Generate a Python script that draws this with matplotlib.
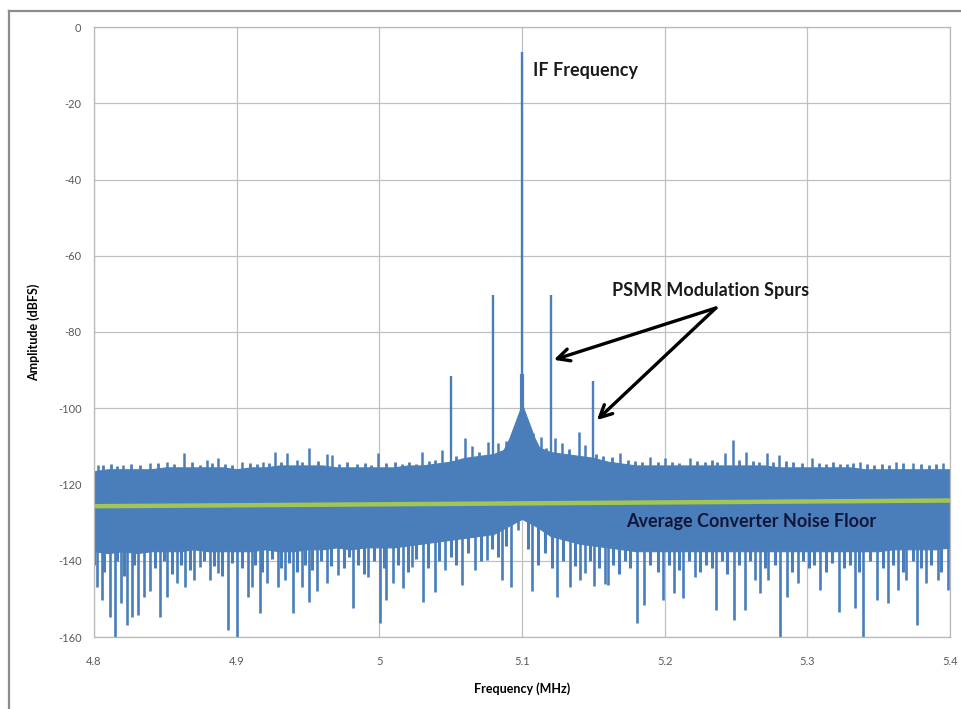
import numpy as np
import matplotlib
matplotlib.use("Agg")
import matplotlib.pyplot as plt
from matplotlib.lines import Line2D

plt.rcParams['font.family'] = ['Lato', 'DejaVu Sans']
plt.rcParams['axes.unicode_minus'] = False

# dense noise band, read every 0.01 MHz (4.80 .. 5.40)
band_freq = [4.80, 4.81, 4.82, 4.83, 4.84, 4.85, 4.86, 4.87, 4.88, 4.89,
             4.90, 4.91, 4.92, 4.93, 4.94, 4.95, 4.96, 4.97, 4.98, 4.99,
             5.00, 5.01, 5.02, 5.03, 5.04, 5.05, 5.06, 5.07, 5.08, 5.09,
             5.10, 5.11, 5.12, 5.13, 5.14, 5.15, 5.16, 5.17, 5.18, 5.19,
             5.20, 5.21, 5.22, 5.23, 5.24, 5.25, 5.26, 5.27, 5.28, 5.29,
             5.30, 5.31, 5.32, 5.33, 5.34, 5.35, 5.36, 5.37, 5.38, 5.39, 5.40]
band_top = [-116.5, -116, -116, -116, -116, -115.5, -115.5, -115.5, -115.5, -115.5,
            -116, -115.5, -115.5, -115, -115, -115, -115, -115.5, -115.5, -115.5,
            -115.5, -115.5, -115, -115, -114.5, -114, -113, -112.5, -112, -110.5,
            -110, -110, -111.5, -112, -112.5, -113, -114, -114.5, -115, -115,
            -115, -115, -115, -115, -115, -115, -115, -115, -115.5, -115.5,
            -115.5, -115.5, -115.5, -115.5, -116, -116, -116, -116, -116, -116, -116]
band_bottom = [-137.5, -138, -137.5, -138, -137.5, -137.5, -137.5, -137, -137.5, -137.5,
               -137.5, -137.5, -137, -137.5, -137.5, -137, -137, -136.5, -137, -136.5,
               -136.5, -136.5, -136, -135.5, -135, -134.5, -134, -133.5, -133, -131,
               -129, -131, -133.5, -134.5, -135.5, -136, -136.5, -137, -137.5, -137.5,
               -137.5, -137.5, -137.5, -137.5, -137.5, -137.5, -137.5, -137.5, -137.5, -137.5,
               -137.5, -137.5, -137.5, -137.5, -137.5, -137.5, -137, -137, -137, -137, -136.5]

# skirt of the carrier
skirt_freq = [5.087, 5.091, 5.094, 5.097, 5.099, 5.100, 5.101, 5.103, 5.106, 5.109, 5.113]
skirt_db = [-111, -108, -105, -102, -100, -98.5, -100, -102, -105, -108, -111]

# tones
carrier_freq = 5.10
carrier_db = -6.6
carrier_core_db = -91
spur_freq = [5.05, 5.08, 5.12, 5.15]
spur_db = [-91.5, -70.3, -70.3, -92.8]

# upward noise peaks (tall)
up_freq = [4.803, 4.8205, 4.839, 4.851, 4.863, 4.879, 4.887, 4.9035, 4.9187, 4.927,
           4.935, 4.942, 4.951, 4.963, 4.967, 4.999, 5.030, 5.044, 5.060, 5.065,
           5.076, 5.083, 5.089, 5.108, 5.1135, 5.123, 5.128, 5.140, 5.1445, 5.169,
           5.190, 5.200, 5.218, 5.242, 5.248, 5.257, 5.272, 5.280, 5.303, 5.337,
           5.362, 5.374, 5.395]
up_db = [-114.9, -114.9, -114.4, -114, -111.8, -113.6, -113, -114, -114, -111.4,
         -111.7, -113.6, -110.4, -112, -112.3, -111.8, -111.4, -111, -107.7, -110,
         -108.8, -109, -108.5, -106.6, -107.5, -107.9, -109.2, -106.2, -109.6, -111.8,
         -112.7, -113.1, -113.1, -111.8, -108.2, -111.4, -111.8, -112.3, -113.1, -114,
         -114, -114.4, -114.4]

# small upward ripples along the top of the band
ripple_freq = [4.806, 4.812, 4.816, 4.826, 4.832, 4.845, 4.856, 4.869, 4.874, 4.883,
               4.892, 4.897, 4.909, 4.914, 4.923, 4.931, 4.946, 4.957, 4.972, 4.977,
               4.984, 4.990, 4.994, 5.005, 5.011, 5.016, 5.021, 5.026, 5.035, 5.039,
               5.054, 5.070, 5.117, 5.133, 5.152, 5.157, 5.163, 5.174, 5.179, 5.184,
               5.195, 5.205, 5.210, 5.223, 5.228, 5.233, 5.237, 5.252, 5.262, 5.266,
               5.276, 5.285, 5.290, 5.296, 5.308, 5.313, 5.318, 5.323, 5.328, 5.332,
               5.342, 5.347, 5.352, 5.357, 5.367, 5.380, 5.385, 5.390]
ripple_db = [-115, -114.5, -115.2, -114.6, -114.8, -114.3, -114.6, -114.2, -114.8, -114.4,
             -114.5, -114.9, -114.3, -114.7, -114.4, -114.1, -114.2, -113.9, -114.6, -114.2,
             -114.7, -114.3, -114.8, -114.4, -114.1, -114.6, -114.2, -114.5, -113.8, -113.6,
             -112.6, -111.5, -110.5, -110.8, -112, -112.6, -112.8, -113.5, -113.8, -114.2,
             -114.1, -114, -114.3, -113.9, -114.2, -113.6, -114, -113.6, -113.9, -114.2,
             -114.1, -113.8, -114.2, -114.4, -114.3, -114.6, -114.2, -114.5, -114.7, -114.4,
             -114.6, -114.9, -114.5, -114.8, -114.4, -114.7, -114.9, -114.6]

# downward noise dips (deep)
down_freq = [4.802, 4.8054, 4.811, 4.8147, 4.8187, 4.823, 4.8264, 4.831, 4.835, 4.839,
             4.8465, 4.851, 4.858, 4.8638, 4.870, 4.874, 4.881, 4.887, 4.894, 4.9004,
             4.908, 4.9105, 4.9163, 4.921, 4.929, 4.934, 4.9397, 4.9455, 4.951, 4.956,
             4.963, 4.971, 4.9817, 4.992, 5.0006, 5.005, 5.0097, 5.0167, 5.0226, 5.0307,
             5.039, 5.046, 5.0577, 5.067, 5.0752, 5.0862, 5.0923, 5.097, 5.107, 5.1242,
             5.1336, 5.1406, 5.144, 5.1507, 5.158, 5.1604, 5.1803, 5.1854, 5.199, 5.2064,
             5.213, 5.2212, 5.2362, 5.2484, 5.2562, 5.2632, 5.2667, 5.2725, 5.2807, 5.2854,
             5.2934, 5.3088, 5.3223, 5.3333, 5.3391, 5.3489, 5.3566, 5.3636, 5.3695, 5.3772,
             5.3835, 5.3917, 5.3987]
down_db = [-146.8, -150.3, -154.7, -160, -151.2, -156.9, -154.7, -154.2, -149.4, -148,
           -154.7, -149.4, -145.9, -146.8, -145, -141.6, -145, -143.2, -158.2, -160,
           -149.4, -146.8, -153.8, -145.9, -146.8, -145, -153.8, -146.8, -150.7, -148,
           -145.9, -143.7, -152.5, -144.2, -156.4, -150.3, -145.9, -147.2, -141.6, -150.7,
           -148.1, -142.5, -146.4, -142.5, -139.8, -145, -146.8, -132, -148, -149.4,
           -146.8, -145, -143.3, -146.6, -146, -146.4, -156.4, -151.6, -150.3, -148.5,
           -149.8, -144.2, -152.9, -155.5, -152.9, -145, -148.5, -145, -160, -149.4,
           -145.9, -147.7, -153.4, -152.5, -160, -150.3, -151.2, -147.7, -145, -156.9,
           -145.9, -145, -147.7]

# shallower dips that make up the texture under the band
dip_freq = [4.800, 4.807, 4.816, 4.821, 4.828, 4.843, 4.849, 4.855, 4.861, 4.867,
            4.877, 4.884, 4.890, 4.897, 4.904, 4.913, 4.918, 4.925, 4.931, 4.937,
            4.942, 4.948, 4.953, 4.959, 4.966, 4.975, 4.979, 4.985, 4.989, 4.996,
            5.003, 5.013, 5.020, 5.026, 5.034, 5.042, 5.050, 5.054, 5.062, 5.071,
            5.079, 5.083, 5.089, 5.104, 5.111, 5.116, 5.121, 5.129, 5.137, 5.148,
            5.154, 5.164, 5.168, 5.172, 5.176, 5.190, 5.195, 5.203, 5.210, 5.217,
            5.225, 5.229, 5.233, 5.240, 5.244, 5.252, 5.260, 5.270, 5.277, 5.289,
            5.297, 5.301, 5.305, 5.313, 5.317, 5.326, 5.330, 5.336, 5.344, 5.353,
            5.360, 5.367, 5.374, 5.380, 5.387, 5.394]
dip_db = [-141, -143, -140, -144, -141, -142, -140, -143.5, -141, -142.5,
          -140, -141.5, -144, -140.5, -142, -141, -143, -139.5, -142, -140.5,
          -143, -141, -142.5, -140, -141.5, -142, -139, -141, -143.5, -140,
          -142, -141, -143, -139.5, -142, -140, -139, -141, -138, -140,
          -137, -139, -136, -137, -141, -138, -142, -140, -141.5, -140,
          -142, -141, -143.5, -140, -142, -141, -143, -141, -142.5, -140,
          -143, -141, -142, -140, -143.5, -141, -140, -142, -141, -143,
          -140, -142, -141, -143, -140.5, -142, -141, -143, -140, -142,
          -141, -143, -140, -142, -141, -143]

# average noise floor (straight trend line)
floor_freq = [4.80, 5.40]
floor_db = [-125.7, -124.2]

x_ticks = [4.8, 4.9, 5.0, 5.1, 5.2, 5.3, 5.4]
x_labels = ['4.8', '4.9', '5', '5.1', '5.2', '5.3', '5.4']
y_ticks = [0, -20, -40, -60, -80, -100, -120, -140, -160]

blue = '#4A7EBB'
green = '#A2C653'

fig = plt.figure(figsize=(9.61, 7.09), dpi=100)
ax = fig.add_axes([94 / 961, 1 - 637 / 709, 856 / 961, 610 / 709])

ax.fill_between(band_freq, band_bottom, band_top, color=blue, lw=0.8, edgecolor=blue)
ax.vlines(ripple_freq, -118, ripple_db, color=blue, lw=2.0)
ax.vlines(up_freq, -118, up_db, color=blue, lw=1.8)
ax.vlines(dip_freq, -128, dip_db, color=blue, lw=2.2)
ax.vlines(down_freq, -128, down_db, color=blue, lw=1.9)
ax.fill_between(skirt_freq, -118, skirt_db, color=blue, lw=0.8, edgecolor=blue)
ax.vlines(spur_freq, -115, spur_db, color=blue, lw=1.7)
ax.vlines(carrier_freq, -110, carrier_core_db, color=blue, lw=3.0)
ax.vlines(carrier_freq, -120, carrier_db, color=blue, lw=1.7)
ax.plot(floor_freq, floor_db, color=green, lw=3.2, solid_capstyle='butt')

ax.set_xlim(4.8, 5.4)
ax.set_ylim(-160, 0)
ax.set_xticks(x_ticks)
ax.set_xticklabels(x_labels)
ax.set_yticks(y_ticks)
ax.grid(True, color='#C0C0C0', lw=0.9)
ax.set_axisbelow(True)
for s in ax.spines.values():
    s.set_color('#B8B8B8')
    s.set_linewidth(0.9)
ax.tick_params(length=0, labelsize=8, labelcolor='#595959')
ax.tick_params(axis='x', pad=14)
ax.tick_params(axis='y', pad=9)

ax.set_xlabel('Frequency (MHz)', fontsize=9, fontweight='bold', labelpad=11)
ax.set_ylabel('Amplitude (dBFS)', fontsize=9, fontweight='bold', labelpad=13)

ax.text(5.1076, -11.5, 'IF Frequency', fontsize=13, fontweight='bold',
        ha='left', va='center', color='#1a1a1a')
ax.text(5.163, -69, 'PSMR Modulation Spurs', fontsize=13, fontweight='bold',
        ha='left', va='center', color='#1a1a1a')
ax.text(5.1728, -129.6, 'Average Converter Noise Floor', fontsize=13,
        fontweight='bold', ha='left', va='center', color='#10163a')

arrow = dict(arrowstyle='->', lw=2.4, color='black', mutation_scale=22,
             shrinkA=0, shrinkB=0)
ax.annotate('', xy=(5.1223, -87.3), xytext=(5.2359, -73.7), arrowprops=arrow)
ax.annotate('', xy=(5.1525, -103.1), xytext=(5.2359, -73.7), arrowprops=arrow)

# outer chart border (left and top visible)
fig.add_artist(Line2D([9 / 961, 9 / 961], [0, 1 - 11 / 709], color='#8C8C8C', lw=1.6))
fig.add_artist(Line2D([9 / 961, 1], [1 - 11 / 709, 1 - 11 / 709], color='#8C8C8C', lw=1.6))

fig.savefig('out.png', dpi=100)
